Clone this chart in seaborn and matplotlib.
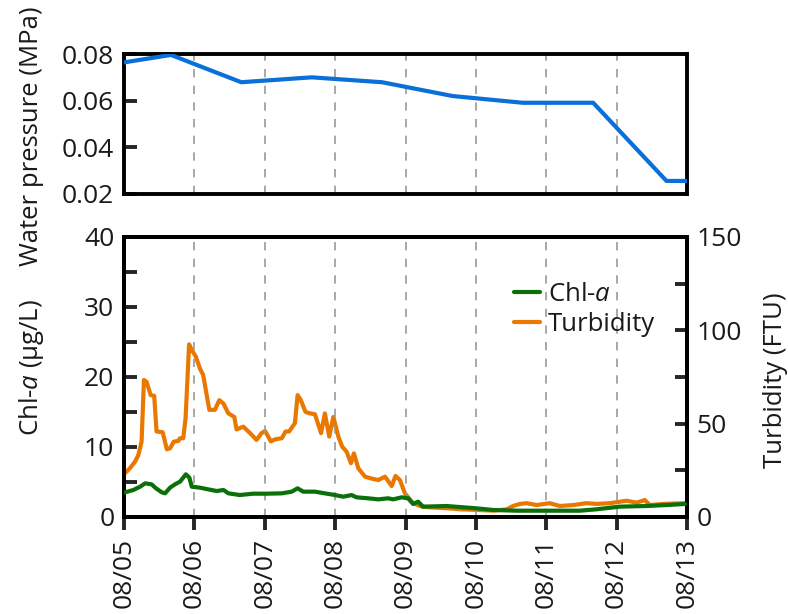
import numpy as np
import pandas as pd
import matplotlib
matplotlib.use("Agg")
import matplotlib.pyplot as plt
from matplotlib.ticker import FixedLocator
import seaborn as sns

# ---------------- data ----------------
day_labels = ["08/05", "08/06", "08/07", "08/08", "08/09", "08/10", "08/11", "08/12", "08/13"]

# water pressure (MPa), time in hours since 08/05 00:00
pressure_hours = [0, 16, 40, 64, 88, 112, 136, 160, 185, 192]
pressure_mpa = [0.0764, 0.0796, 0.0679, 0.0700, 0.0679, 0.0620, 0.0591, 0.0591, 0.0256, 0.0256]

# Chl-a (ug/L)
chl_hours = [0.3, 3.2, 5.5, 7.2, 9.4, 10.9, 12.9, 14.0, 15.7, 17.4, 19.1, 21.1, 22.3, 23.1,
             25.9, 28.7, 31.6, 33.9, 35.6, 39.5, 44.0, 48.6, 53.8, 57.2, 59.2, 61.1, 65.1,
             68.5, 71.9, 74.8, 77.6, 79.3, 83.3, 86.7, 90.1, 91.8, 94.7, 96.9, 98.6, 100.3,
             102.0, 110.0, 120.2, 125.9, 133.9, 144.1, 155.5, 161.1, 169.1, 178.2, 185.0, 191.3]
chl_ugl = [3.52, 3.86, 4.33, 4.81, 4.67, 4.10, 3.52, 3.38, 4.19, 4.67, 5.05, 6.10, 5.62, 4.33,
           4.19, 3.95, 3.71, 3.86, 3.38, 3.14, 3.33, 3.33, 3.38, 3.62, 4.10, 3.62, 3.62,
           3.38, 3.14, 2.90, 3.14, 2.81, 2.67, 2.52, 2.67, 2.52, 2.81, 2.67, 1.86, 2.19,
           1.48, 1.57, 1.24, 1.00, 0.90, 0.90, 0.90, 1.10, 1.48, 1.57, 1.71, 1.86]

# Turbidity (FTU)
turb_hours = [0.3, 2.0, 3.75, 4.9, 6.0, 6.8, 7.7, 9.1, 10.3, 11.1, 13.2, 14.6, 15.7, 17.0,
              18.5, 19.1, 20.2, 21.0, 22.2, 23.1, 24.5, 25.9, 27.0, 29.1, 31.0, 32.5, 33.9,
              35.6, 37.6, 38.4, 40.7, 43.0, 45.2, 46.9, 48.1, 50.1, 51.5, 53.8, 55.1, 56.3,
              58.3, 59.2, 60.3, 61.9, 63.4, 65.1, 67.2, 68.5, 70.0, 71.4, 73.1, 74.4, 75.9,
              77.4, 78.4, 79.9, 82.2, 84.4, 86.7, 89.0, 91.3, 92.6, 94.1, 95.8, 97.2, 98.6,
              101.5, 104.0, 110.0, 115.0, 120.2, 125.9, 130.5, 132.7, 135.0, 137.3, 140.7,
              145.2, 148.6, 153.2, 157.7, 161.1, 165.7, 171.4, 174.8, 177.6, 179.3, 183.9, 191.3]
turb_ftu = [23.4, 26.1, 29.6, 33.2, 40.4, 73.4, 72.4, 65.3, 64.9, 45.8, 45.4, 36.3, 36.8, 40.4,
            40.7, 42.2, 42.2, 52.9, 92.5, 89.5, 85.9, 79.5, 76.1, 57.4, 57.4, 62.6, 60.8,
            55.5, 53.6, 46.9, 48.4, 44.9, 41.3, 44.9, 46.1, 40.5, 41.6, 42.2, 45.8, 45.8,
            50.3, 65.3, 62.6, 56.3, 55.5, 55.1, 44.9, 55.5, 43.1, 53.6, 43.1, 37.7, 35.0,
            28.8, 34.1, 26.1, 21.6, 20.6, 19.8, 21.6, 16.6, 22.0, 19.8, 12.7, 10.0, 7.4,
            5.6, 5.2, 4.7, 4.1, 3.8, 3.4, 4.1, 5.9, 7.0, 7.4, 6.4,
            7.4, 5.9, 6.4, 7.4, 7.0, 7.4, 8.7, 7.7, 9.1, 6.4, 7.0, 7.4]

# ---------------- style ----------------
sns.set_theme(style="ticks")
plt.rcParams["font.family"] = ["Open Sans", "DejaVu Sans"]
plt.rcParams["mathtext.fontset"] = "custom"
plt.rcParams["mathtext.rm"] = "Open Sans"
plt.rcParams["mathtext.it"] = "Open Sans:italic"

TXT = "#1a1a1a"
BLUE = "#0a6fd8"
GREEN = "#0a700a"
ORANGE = "#ea7800"
SPW = 2.8
LW = 3.0
FS = 19
LFS = 18.5

fig = plt.figure(figsize=(7.88, 6.14), dpi=100)
W, H = 788, 614
L, R = 124, 687
ax_top = fig.add_axes([L / W, 1 - 194 / H, (R - L) / W, 140 / H])
ax = fig.add_axes([L / W, 1 - 517 / H, (R - L) / W, 280 / H])
ax2 = ax.twinx()

df_p = pd.DataFrame({"day": np.array(pressure_hours) / 24.0, "p": pressure_mpa})
df_c = pd.DataFrame({"day": np.array(chl_hours) / 24.0, "v": chl_ugl})
df_t = pd.DataFrame({"day": np.array(turb_hours) / 24.0, "v": turb_ftu})

sns.lineplot(data=df_p, x="day", y="p", ax=ax_top, color=BLUE, lw=LW, zorder=3)
sns.lineplot(data=df_c, x="day", y="v", ax=ax, color=GREEN, lw=LW, zorder=3, label="Chl-$a$")
sns.lineplot(data=df_t, x="day", y="v", ax=ax2, color=ORANGE, lw=LW, zorder=3, label="Turbidity")

ax.set_zorder(ax2.get_zorder() + 1)
ax.patch.set_visible(False)

h1, l1 = ax.get_legend_handles_labels()
h2, l2 = ax2.get_legend_handles_labels()
if ax2.get_legend():
    ax2.get_legend().remove()

ticks = list(range(len(day_labels)))
for a in (ax_top, ax):
    a.set_xlim(0, 8)
    a.xaxis.set_major_locator(FixedLocator(ticks))
    a.grid(axis="x", linestyle=(0, (5, 5)), color="#999999", lw=1.2, zorder=0)
    a.set_xlabel("")
    a.set_ylabel("")
    for s in a.spines.values():
        s.set_visible(True)
        s.set_linewidth(SPW)
        s.set_color("black")
for s in ax2.spines.values():
    s.set_linewidth(SPW)
    s.set_color("black")

# top panel
ax_top.set_ylim(0.02, 0.08)
ax_top.set_yticks([0.02, 0.04, 0.06, 0.08])
ax_top.set_yticklabels(["0.02", "0.04", "0.06", "0.08"])
ax_top.tick_params(axis="y", direction="in", length=9, width=SPW, labelsize=FS,
                   labelcolor=TXT, pad=7)
ax_top.tick_params(axis="x", direction="in", length=0, labelbottom=False)

# bottom panel
ax.set_ylim(0, 40)
ax.yaxis.set_major_locator(FixedLocator([0, 10, 20, 30, 40]))
ax.yaxis.set_minor_locator(FixedLocator([5, 15, 25, 35]))
ax.tick_params(axis="y", which="both", direction="in", length=9, width=SPW,
               labelsize=FS, labelcolor=TXT, pad=7)
ax.set_xticklabels(day_labels, rotation=90)
ax.tick_params(axis="x", direction="out", length=9, width=SPW, labelsize=FS,
               labelcolor=TXT, pad=6)

ax2.set_ylim(0, 150)
ax2.yaxis.set_major_locator(FixedLocator([0, 50, 100, 150]))
ax2.yaxis.set_minor_locator(FixedLocator([25, 75, 125]))
ax2.tick_params(axis="y", which="both", direction="in", length=9, width=SPW,
                labelsize=FS, labelcolor=TXT, pad=7)
ax2.set_ylabel("")

leg = ax.legend(h1 + h2, l1 + l2, loc="upper left",
                bbox_to_anchor=(504 / W, 1 - 272 / H), bbox_transform=fig.transFigure,
                frameon=False, fontsize=LFS, handlelength=1.0, handletextpad=0.3,
                labelspacing=0.2, borderaxespad=0)
for t in leg.get_texts():
    t.set_color(TXT)

# axis labels
fig.text(32 / W, 1 - 136 / H, "Water pressure (MPa)", rotation=90, ha="center", va="center",
         fontsize=LFS, color=TXT)
fig.text(32 / W, 1 - 367 / H, "Chl-$a$ (µg/L)", rotation=90, ha="center", va="center",
         fontsize=LFS, color=TXT)
fig.text(775 / W, 1 - 380 / H, "Turbidity (FTU)", rotation=90, ha="center", va="center",
         fontsize=LFS, color=TXT)

fig.savefig("out.png", dpi=100)
